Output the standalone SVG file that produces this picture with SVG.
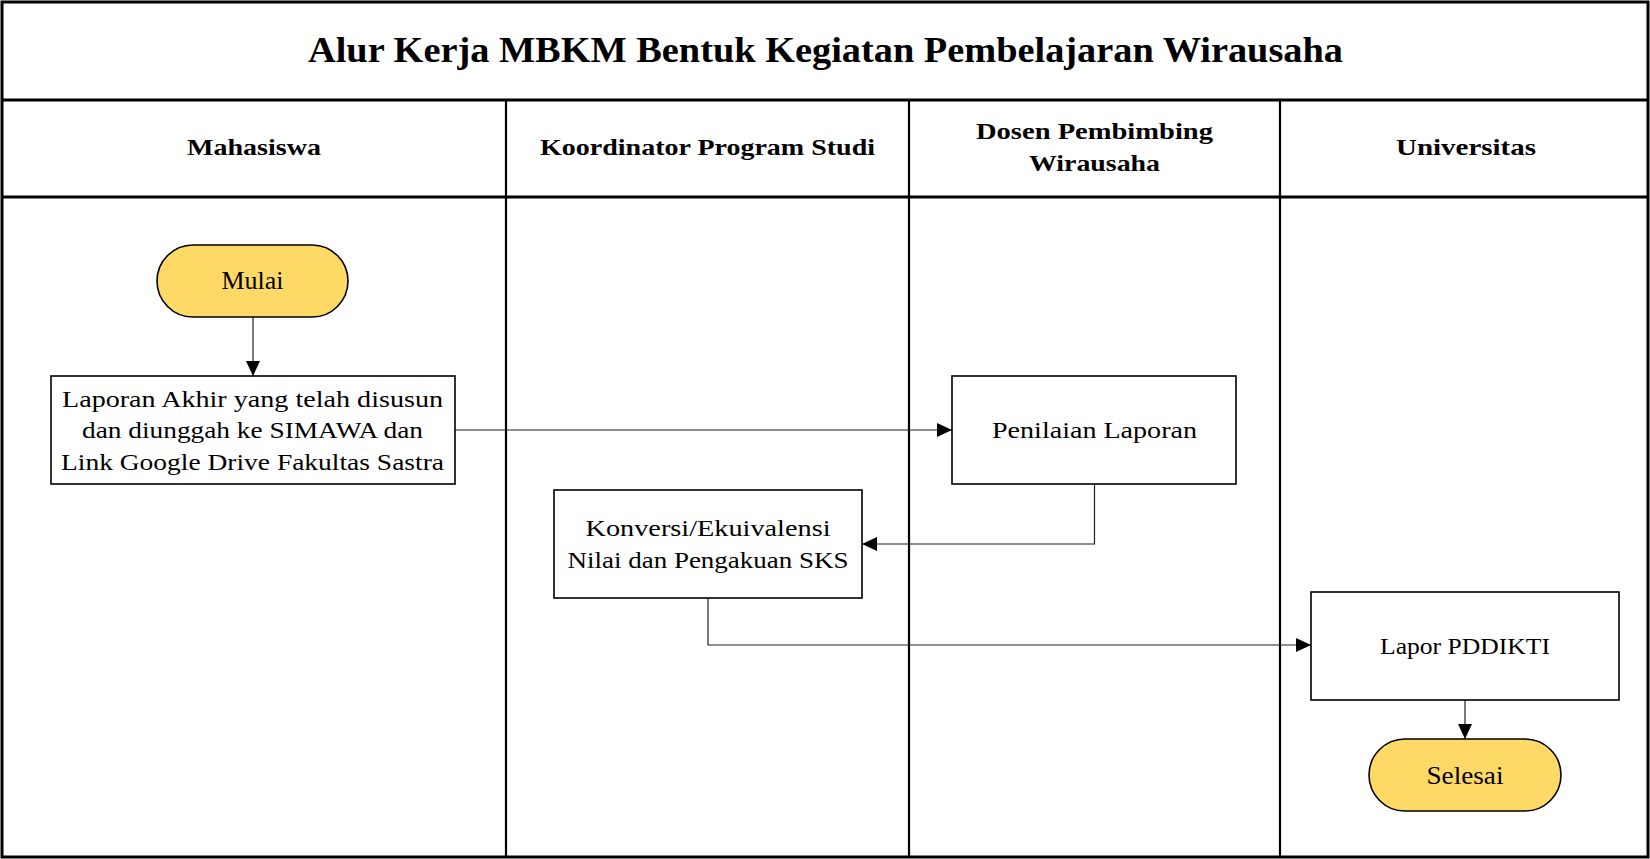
<svg xmlns="http://www.w3.org/2000/svg" width="1650" height="859" viewBox="0 0 1650 859">
<defs>
<marker id="arr" markerUnits="userSpaceOnUse" markerWidth="16" markerHeight="14" refX="15" refY="7" orient="auto">
<path d="M0,0 L15,7 L0,14 Z" fill="#000"/>
</marker>
<style>
.frame{fill:none;stroke:#000;stroke-width:3}
.lane{stroke:#000;stroke-width:2.2}
.box{fill:#fff;stroke:#000;stroke-width:1.6}
.term{fill:#FFD966;stroke:#000;stroke-width:1.6}
.conn{fill:none;stroke:#222;stroke-width:1.2;marker-end:url(#arr)}
.t{font-family:"Liberation Serif","DejaVu Serif",serif;font-size:22.5px;fill:#000;text-anchor:middle}
.tt{font-family:"Liberation Serif","DejaVu Serif",serif;font-size:24.5px;fill:#000;text-anchor:middle}
.h{font-family:"Liberation Serif","DejaVu Serif",serif;font-size:23.5px;font-weight:bold;fill:#000;text-anchor:middle}
.title{font-family:"Liberation Serif","DejaVu Serif",serif;font-size:35px;font-weight:bold;fill:#000;text-anchor:middle}
</style>
</defs>
<rect width="1650" height="859" fill="#fff"/>
<g id="pool">
<rect class="frame" x="2" y="2" width="1646" height="855"/>
<line class="lane" x1="2" y1="100" x2="1648" y2="100" style="stroke-width:3"/>
<line class="lane" x1="2" y1="197" x2="1648" y2="197" style="stroke-width:3"/>
<line class="lane" x1="506" y1="100" x2="506" y2="857"/>
<line class="lane" x1="909" y1="100" x2="909" y2="857"/>
<line class="lane" x1="1280" y1="100" x2="1280" y2="857"/>
<text class="title" x="825.5" y="62" textLength="1035" lengthAdjust="spacingAndGlyphs">Alur Kerja MBKM Bentuk Kegiatan Pembelajaran Wirausaha</text>
<text class="h" x="254" y="155" textLength="134" lengthAdjust="spacingAndGlyphs">Mahasiswa</text>
<text class="h" x="707.5" y="155" textLength="335" lengthAdjust="spacingAndGlyphs">Koordinator Program Studi</text>
<text class="h" x="1094.5" y="139" textLength="237" lengthAdjust="spacingAndGlyphs">Dosen Pembimbing</text>
<text class="h" x="1094.5" y="171" textLength="131" lengthAdjust="spacingAndGlyphs">Wirausaha</text>
<text class="h" x="1466" y="155" textLength="140" lengthAdjust="spacingAndGlyphs">Universitas</text>
</g>
<g id="connectors">
<path class="conn" d="M253,317 L253,376"/>
<path class="conn" d="M455,430 L952,430"/>
<path class="conn" d="M1094.5,484 L1094.5,544 L862,544"/>
<path class="conn" d="M708,598 L708,645 L1311,645"/>
<path class="conn" d="M1465,700 L1465,739"/>
</g>
<g id="mulai">
<rect class="term" x="157" y="245" width="191" height="72" rx="36" ry="36"/>
<text class="tt" x="252.5" y="289" textLength="62" lengthAdjust="spacingAndGlyphs">Mulai</text>
</g>
<g id="laporan-akhir">
<rect class="box" x="51" y="376" width="404" height="108"/>
<text class="t" x="252.5" y="406.5" textLength="381" lengthAdjust="spacingAndGlyphs">Laporan Akhir yang telah disusun</text>
<text class="t" x="252.5" y="438" textLength="341" lengthAdjust="spacingAndGlyphs">dan diunggah ke SIMAWA dan</text>
<text class="t" x="252.5" y="469.5" textLength="383" lengthAdjust="spacingAndGlyphs">Link Google Drive Fakultas Sastra</text>
</g>
<g id="penilaian">
<rect class="box" x="952" y="376" width="284" height="108"/>
<text class="t" x="1094.5" y="437.5" textLength="205" lengthAdjust="spacingAndGlyphs">Penilaian Laporan</text>
</g>
<g id="konversi">
<rect class="box" x="554" y="490" width="308" height="108"/>
<text class="t" x="708" y="535.5" textLength="245" lengthAdjust="spacingAndGlyphs">Konversi/Ekuivalensi</text>
<text class="t" x="708" y="567.5" textLength="281" lengthAdjust="spacingAndGlyphs">Nilai dan Pengakuan SKS</text>
</g>
<g id="lapor-pddikti">
<rect class="box" x="1311" y="592" width="308" height="108"/>
<text class="t" x="1465" y="653.5" textLength="170" lengthAdjust="spacingAndGlyphs">Lapor PDDIKTI</text>
</g>
<g id="selesai">
<rect class="term" x="1369" y="739" width="192" height="72" rx="36" ry="36"/>
<text class="tt" x="1465" y="783.5" textLength="77" lengthAdjust="spacingAndGlyphs">Selesai</text>
</g>
</svg>
